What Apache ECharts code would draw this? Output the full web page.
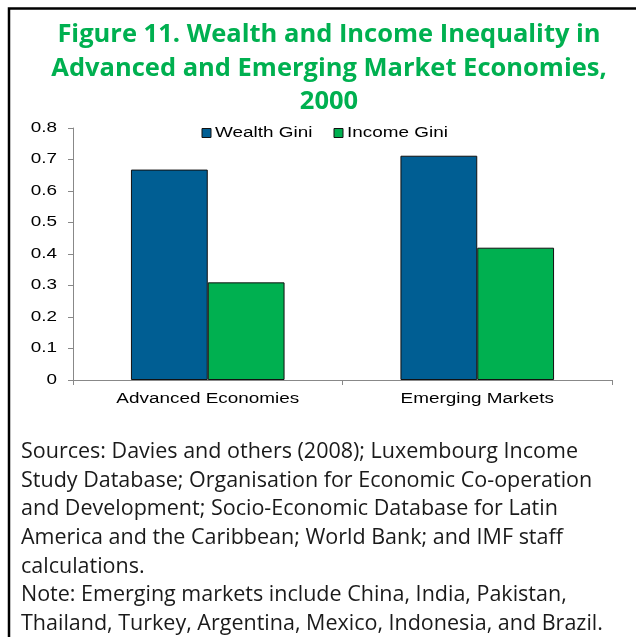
<!DOCTYPE html>
<html>
<head>
<meta charset="utf-8">
<script src="https://cdn.jsdelivr.net/npm/echarts@6/dist/echarts.min.js"></script>
<style>
  html, body { margin: 0; padding: 0; background: #fff; }
  #main { width: 636px; height: 637px; }
</style>
</head>
<body>
<div id="main"></div>
<script>
var categories = ['Advanced Economies', 'Emerging Markets'];
var seriesNames = ['Wealth Gini', 'Income Gini'];
var wealthGini = [0.668, 0.712];
var incomeGini = [0.310, 0.420];
var yTickValues = [0, 0.1, 0.2, 0.3, 0.4, 0.5, 0.6, 0.7, 0.8];
var yTickLabels = ['0', '0.1', '0.2', '0.3', '0.4', '0.5', '0.6', '0.7', '0.8'];

var titleLines = [
  'Figure 11. Wealth and Income Inequality in',
  'Advanced and Emerging Market Economies,',
  '2000'
];
var noteLines = [
  'Sources: Davies and others (2008); Luxembourg Income',
  'Study Database; Organisation for Economic Co-operation',
  'and Development; Socio-Economic Database for Latin',
  'America and the Caribbean; World Bank; and IMF staff',
  'calculations.',
  'Note: Emerging markets include China, India, Pakistan,',
  'Thailand, Turkey, Argentina, Mexico, Indonesia, and Brazil.'
];

var colors = ['#005E93', '#00B050'];
// the excel chart in the source is stretched sideways, so chart text gets scaleX
var stretch = 1.35;
var chartFont = '14px "Liberation Sans", Arial, sans-serif';

var myChart = echarts.init(document.getElementById('main'));

myChart.setOption({
  animation: false,
  title: {
    text: titleLines.join('\n'),
    left: 324,
    top: 13,
    textAlign: 'center',
    textStyle: {
      color: '#00B050',
      fontFamily: '"Open Sans", sans-serif',
      fontWeight: 'bold',
      fontSize: 25.5,
      lineHeight: 33.5
    }
  },
  grid: {
    left: 73,
    right: 24,
    top: 128,
    bottom: 257,
    containLabel: false
  },
  xAxis: {
    type: 'category',
    data: categories,
    axisLine: { lineStyle: { color: '#888' } },
    axisTick: { show: true, length: 5, lineStyle: { color: '#888' } },
    axisLabel: { show: false }
  },
  yAxis: {
    type: 'value',
    min: 0,
    max: 0.8,
    interval: 0.1,
    splitLine: { show: false },
    axisLine: { show: true, lineStyle: { color: '#888' } },
    axisTick: { show: true, length: 5, lineStyle: { color: '#888' } },
    axisLabel: { show: false }
  },
  series: [{
    name: seriesNames[0],
    type: 'bar',
    data: wealthGini,
    barGap: '0%',
    barCategoryGap: '43%',
    itemStyle: { color: colors[0], borderColor: '#111', borderWidth: 1 }
  }, {
    name: seriesNames[1],
    type: 'bar',
    data: incomeGini,
    itemStyle: { color: colors[1], borderColor: '#111', borderWidth: 1 }
  }]
});

// frame, axis labels, legend and footnote
var graphics = [{
  type: 'polyline',
  shape: { points: [[9, 640], [9, 8.5], [640, 8.5]] },
  style: { stroke: '#000', lineWidth: 2.5, fill: null }
}];

var y0 = myChart.convertToPixel({ yAxisIndex: 0 }, 0);
categories.forEach(function (c) {
  graphics.push({
    type: 'text',
    x: myChart.convertToPixel({ xAxisIndex: 0 }, c),
    y: y0 + 19,
    scaleX: stretch,
    style: { text: c, font: chartFont, fill: '#000', align: 'center', verticalAlign: 'middle' }
  });
});
yTickValues.forEach(function (v, i) {
  graphics.push({
    type: 'text',
    x: 57,
    y: myChart.convertToPixel({ yAxisIndex: 0 }, v),
    scaleX: stretch,
    style: { text: yTickLabels[i], font: chartFont, fill: '#000', align: 'right', verticalAlign: 'middle' }
  });
});

var legendX = [202, 334];
seriesNames.forEach(function (n, i) {
  graphics.push({
    type: 'rect',
    shape: { x: legendX[i], y: 128.5, width: 9, height: 9 },
    style: { fill: colors[i], stroke: '#111', lineWidth: 1 }
  });
  graphics.push({
    type: 'text',
    x: legendX[i] + 13,
    y: 133,
    scaleX: stretch,
    style: { text: n, font: chartFont, fill: '#000', align: 'left', verticalAlign: 'middle' }
  });
});

noteLines.forEach(function (t, i) {
  graphics.push({
    type: 'text',
    x: 21,
    y: 452 + i * 28.6,
    style: {
      text: t,
      font: '21.5px "Open Sans", sans-serif',
      fill: '#1a1a1a',
      verticalAlign: 'middle'
    }
  });
});

myChart.setOption({ graphic: graphics });
</script>
</body>
</html>
